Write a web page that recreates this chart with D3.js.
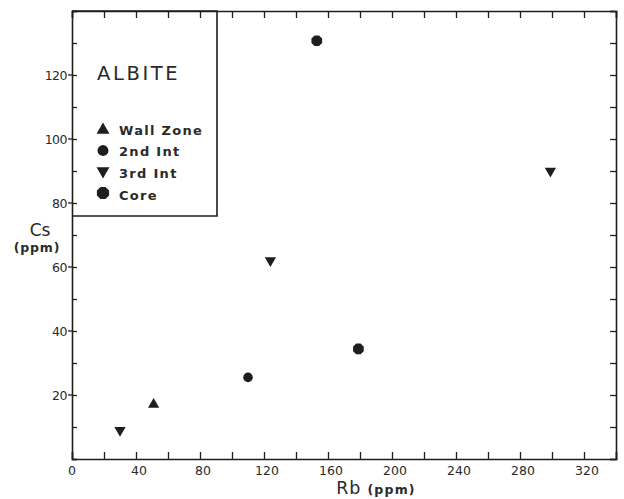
<!DOCTYPE html>
<html>
<head>
<meta charset="utf-8">
<script src="https://cdn.jsdelivr.net/npm/d3@7"></script>
<style>
  html, body { margin: 0; padding: 0; background: #fff; }
  svg { display: block; }
  text { font-family: "DejaVu Sans", Verdana, sans-serif; fill: #2a2a2a; }
</style>
</head>
<body>
<svg id="chart" width="624" height="499"></svg>
<script>
// Rb (ppm) vs Cs (ppm) in albite, by pegmatite zone
const zones = ["Wall Zone", "2nd Int", "3rd Int", "Core"];
const wallZoneRb = [51];
const wallZoneCs = [17];
const secondIntRb = [110];
const secondIntCs = [25.5];
const thirdIntRb = [30, 124, 299];
const thirdIntCs = [9, 62, 90];
const coreRb = [153, 179];
const coreCs = [130.7, 34.4];

const xTickLabels = [0, 40, 80, 120, 160, 200, 240, 280, 320];
const yTickLabels = [20, 40, 60, 80, 100, 120];
const title = "ALBITE";

const svg = d3.select("#chart");
const ink = "#1e1e1e";

const x = d3.scaleLinear().domain([0, 340]).range([72, 616]);
const y = d3.scaleLinear().domain([0, 140]).range([459, 11]);

// Filled octagon used for the Core zone
const symbolOctagon = {
  draw(ctx, size) {
    const r = Math.sqrt(size / (2 * Math.SQRT2));
    for (let i = 0; i < 8; i++) {
      const a = Math.PI / 8 + i * Math.PI / 4;
      const px = r * Math.cos(a), py = r * Math.sin(a);
      if (i === 0) ctx.moveTo(px, py); else ctx.lineTo(px, py);
    }
    ctx.closePath();
  }
};
const shapes = {
  "Wall Zone": { type: d3.symbolTriangle, rot: 0 },
  "2nd Int": { type: d3.symbolCircle, rot: 0 },
  "3rd Int": { type: d3.symbolTriangle, rot: 180 },
  "Core": { type: symbolOctagon, rot: 0 }
};
const sizes = { "Wall Zone": 55, "2nd Int": 72, "3rd Int": 55, "Core": 95 };

function marker(zone, size) {
  return d3.symbol().type(shapes[zone].type).size(size)();
}

// Frame: mirrored ticks on all four sides
const xTicks20 = d3.range(0, 341, 20);
const yTicks10 = d3.range(0, 141, 10);

const axisB = d3.axisBottom(x).tickValues(xTicks20).tickSize(-7).tickFormat("");
const axisT = d3.axisTop(x).tickValues(xTicks20).tickSize(-7).tickFormat("");
const axisL = d3.axisLeft(y).tickValues(yTicks10).tickSize(-5).tickFormat("");
const axisR = d3.axisRight(y).tickValues(yTicks10).tickSize(-6).tickFormat("");

function styleAxis(g) {
  g.select(".domain").attr("stroke", ink).attr("stroke-width", 1.6);
  g.selectAll(".tick line").attr("stroke", ink).attr("stroke-width", 1.3);
}

svg.append("g").attr("transform", `translate(0,${y(0)})`).call(axisB).call(styleAxis);
svg.append("g").attr("transform", `translate(0,${y(140)})`).call(axisT).call(styleAxis);
svg.append("g").attr("transform", `translate(${x(0)},0)`).call(axisL).call(styleAxis);
svg.append("g").attr("transform", `translate(${x(340)},0)`).call(axisR).call(styleAxis);

// Outward stubs on labelled y ticks
svg.append("g").selectAll("line").data(yTickLabels).join("line")
  .attr("x1", x(0) - 4).attr("x2", x(0))
  .attr("y1", d => y(d)).attr("y2", d => y(d))
  .attr("stroke", ink).attr("stroke-width", 1.3);

// Tick labels
svg.append("g").selectAll("text").data(xTickLabels).join("text")
  .attr("x", d => x(d) + (d === 0 ? 0 : 3))
  .attr("y", 475)
  .attr("text-anchor", "middle")
  .attr("font-size", 12.5)
  .text(d => d);

svg.append("g").selectAll("text").data(yTickLabels).join("text")
  .attr("x", x(0) - 5)
  .attr("y", d => y(d) + 4.5)
  .attr("text-anchor", "end")
  .attr("font-size", 12.5)
  .attr("letter-spacing", -0.5)
  .text(d => d);

// Axis titles
const xt = svg.append("text").attr("x", 376).attr("y", 494).attr("text-anchor", "middle");
xt.append("tspan").attr("font-size", 17.5).attr("letter-spacing", 0.8).text("Rb ");
xt.append("tspan").attr("font-size", 12.5).attr("font-weight", "bold").attr("letter-spacing", 1.2).text("(ppm)");

svg.append("text").attr("x", 40).attr("y", 236).attr("text-anchor", "middle")
  .attr("font-size", 17).text("Cs");
svg.append("text").attr("x", 37).attr("y", 252).attr("text-anchor", "middle")
  .attr("font-size", 12.5).attr("font-weight", "bold").attr("letter-spacing", 0.8).text("(ppm)");

// Legend box
svg.append("path")
  .attr("d", `M${x(0)},${y(140)} L217,${y(140)} L217,216 L${x(0)},216`)
  .attr("fill", "none").attr("stroke", ink).attr("stroke-width", 1.6);

svg.append("text").attr("x", 97).attr("y", 80)
  .attr("font-size", 19.5).attr("letter-spacing", 2.6).text(title);

const legend = svg.append("g");
zones.forEach((z, i) => {
  const cy = [130, 150.5, 171, 193][i];
  legend.append("path")
    .attr("d", marker(z, sizes[z] * 1.3))
    .attr("transform", `translate(103,${cy}) rotate(${shapes[z].rot})`)
    .attr("fill", ink);
  legend.append("text")
    .attr("x", 119).attr("y", [135, 156, 178, 200][i])
    .attr("font-size", 13).attr("font-weight", "bold").attr("letter-spacing", 1.3)
    .text(z);
});

// Data points
const series = [
  { zone: "Wall Zone", rb: wallZoneRb, cs: wallZoneCs },
  { zone: "2nd Int", rb: secondIntRb, cs: secondIntCs },
  { zone: "3rd Int", rb: thirdIntRb, cs: thirdIntCs },
  { zone: "Core", rb: coreRb, cs: coreCs }
];
series.forEach(s => {
  const pts = s.rb.map((v, i) => [v, s.cs[i]]);
  svg.append("g").selectAll("path").data(pts).join("path")
    .attr("d", marker(s.zone, sizes[s.zone]))
    .attr("transform", d => `translate(${x(d[0])},${y(d[1])}) rotate(${shapes[s.zone].rot})`)
    .attr("fill", ink);
});
</script>
</body>
</html>
